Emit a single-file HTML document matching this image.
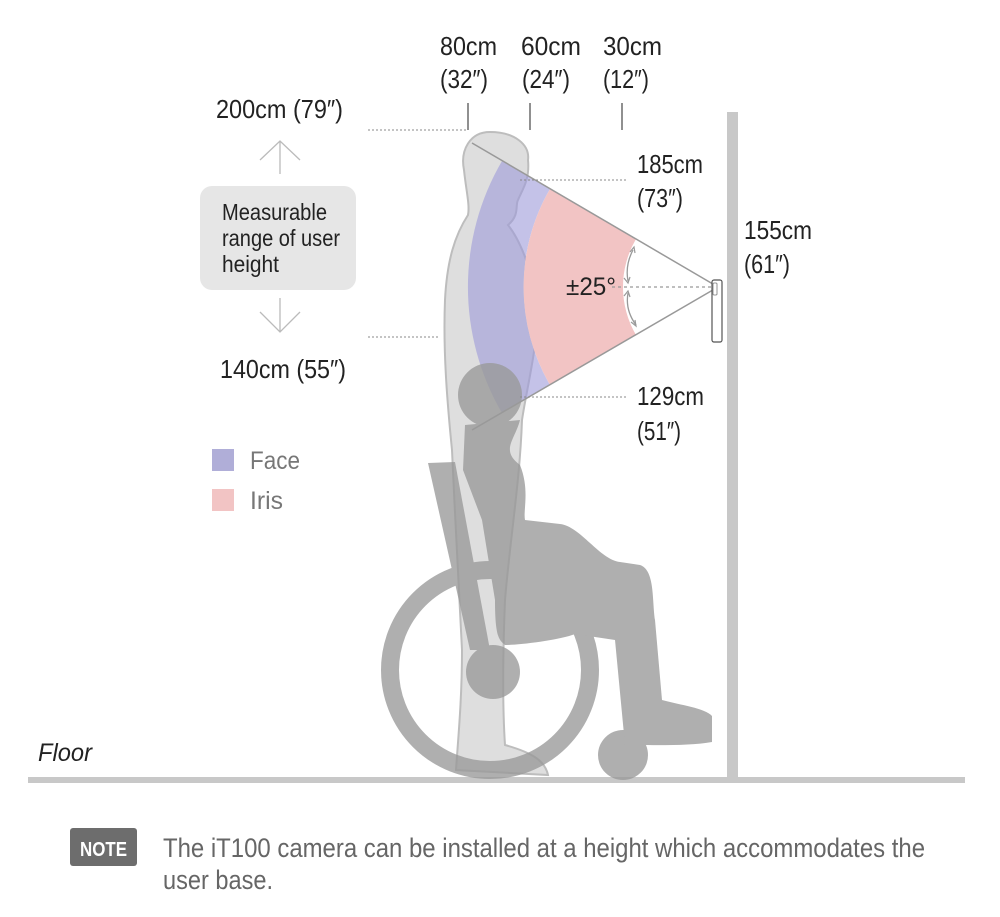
<!DOCTYPE html>
<html><head><meta charset="utf-8"><style>
html,body{margin:0;padding:0;background:#fff;}
svg{display:block;}
text{font-family:"Liberation Sans",sans-serif;}
</style></head><body>
<svg width="1000" height="917" viewBox="0 0 1000 917" xmlns="http://www.w3.org/2000/svg">
<!-- wall & floor -->
<rect x="727" y="112" width="11" height="668" fill="#c8c8c8"/>
<rect x="28" y="777" width="937" height="6" fill="#c8c8c8"/>

<!-- standing person -->
<path d="M490,132 C470,132 460,150 464,170 C466,190 470,205 468,215 C455,235 447,260 445,300 C443,350 447,400 452,450 C455,520 460,600 462,650 C462,700 458,740 456,770 L548,775 C545,760 530,752 505,745 C502,700 503,650 505,600 C510,540 520,480 522,420 C528,380 540,340 536,300 C532,270 520,240 508,225 C520,215 515,205 518,200 C522,190 530,180 528,160 C530,145 515,132 490,132 Z" fill="#dedede" stroke="#bdbdbd" stroke-width="2"/>

<!-- face band -->
<path d="M502,161 A250,250 0 0 0 502,413 L550,385 A195,195 0 0 1 550,189 Z" fill="#9d9ad8" fill-opacity="0.6"/>
<!-- iris band -->
<path d="M550,189 A195,195 0 0 0 550,385 L636,335 A95,95 0 0 1 636,239 Z" fill="#f2c4c4"/>
<!-- cone lines -->
<line x1="718" y1="287" x2="472" y2="143" stroke="#999" stroke-width="1.5"/>
<line x1="718" y1="287" x2="472" y2="430" stroke="#999" stroke-width="1.5"/>
<line x1="612" y1="287" x2="716" y2="287" stroke="#999" stroke-width="1.2" stroke-dasharray="3,3"/>
<!-- angle arrows -->
<path d="M633,250 Q625,265 628,281" fill="none" stroke="#999" stroke-width="1.3"/>
<path d="M628,293 Q625,310 636,325" fill="none" stroke="#999" stroke-width="1.3"/>
<path d="M630,252 l4,-5 l1,6 M624,278 l4,5 l2,-6 M624,296 l4,-5 l2,6 M631,322 l5,4 l-1,-6" fill="none" stroke="#999" stroke-width="1.2"/>
<text x="566" y="295" font-size="25" fill="#222" textLength="50" lengthAdjust="spacingAndGlyphs">±25°</text>

<!-- camera -->
<rect x="712" y="280" width="10" height="62" rx="2" fill="#fff" stroke="#555" stroke-width="1.2"/>
<rect x="713" y="283" width="4" height="12" rx="1" fill="#fff" stroke="#777" stroke-width="0.8"/>

<!-- wheelchair + person -->
<g fill="#999" opacity="0.78">
<circle cx="490" cy="670" r="100" fill="none" stroke="#999" stroke-width="18"/>
<circle cx="623" cy="755" r="25"/>
<path d="M428,463 L455,462 L490,650 L470,650 Z"/>
<circle cx="493" cy="672" r="27"/>
<circle cx="490" cy="395" r="32"/>
<path d="M465,425 L520,420 C515,440 500,450 520,465 C530,490 523,510 525,520 L560,524 C580,526 600,560 620,562 L640,565 C655,570 652,600 655,620 L662,700 C680,705 705,708 712,716 L712,742 C690,746 660,745 625,745 L615,640 L575,634 C560,640 520,645 505,645 C500,640 495,640 495,600 L482,520 L463,470 Z"/>
</g>

<!-- top ticks -->
<g stroke="#555" stroke-width="1.3">
<line x1="468" y1="103" x2="468" y2="130"/>
<line x1="530" y1="103" x2="530" y2="130"/>
<line x1="622" y1="103" x2="622" y2="130"/>
</g>
<g stroke="#888" stroke-width="1" stroke-dasharray="2,2" fill="none">
<line x1="368" y1="130" x2="468" y2="130"/>
<line x1="368" y1="337" x2="440" y2="337"/>
<line x1="520" y1="180" x2="628" y2="180"/>
<line x1="520" y1="397" x2="628" y2="397"/>
</g>

<g fill="#222" font-size="26">
<text x="440" y="55" textLength="57" lengthAdjust="spacingAndGlyphs">80cm</text>
<text x="440" y="88" textLength="48" lengthAdjust="spacingAndGlyphs">(32″)</text>
<text x="521" y="55" textLength="60" lengthAdjust="spacingAndGlyphs">60cm</text>
<text x="522" y="88" textLength="48" lengthAdjust="spacingAndGlyphs">(24″)</text>
<text x="603" y="55" textLength="59" lengthAdjust="spacingAndGlyphs">30cm</text>
<text x="603" y="88" textLength="46" lengthAdjust="spacingAndGlyphs">(12″)</text>
<text x="216" y="118" textLength="127" lengthAdjust="spacingAndGlyphs">200cm (79″)</text>
<text x="220" y="378" textLength="126" lengthAdjust="spacingAndGlyphs">140cm (55″)</text>
<text x="637" y="173" textLength="66" lengthAdjust="spacingAndGlyphs">185cm</text>
<text x="637" y="207" textLength="46" lengthAdjust="spacingAndGlyphs">(73″)</text>
<text x="744" y="239" textLength="68" lengthAdjust="spacingAndGlyphs">155cm</text>
<text x="744" y="273" textLength="46" lengthAdjust="spacingAndGlyphs">(61″)</text>
<text x="637" y="405" textLength="67" lengthAdjust="spacingAndGlyphs">129cm</text>
<text x="637" y="440" textLength="44" lengthAdjust="spacingAndGlyphs">(51″)</text>
</g>

<!-- range box -->
<g stroke="#bbb" stroke-width="1.3" fill="none">
<path d="M280,174 L280,141 M260,160 L280,141 L300,160"/>
<path d="M280,298 L280,332 M260,312 L280,332 L300,312"/>
</g>
<rect x="200" y="186" width="156" height="104" rx="12" fill="#e6e6e6"/>
<g fill="#222" font-size="23">
<text x="222" y="220" textLength="105" lengthAdjust="spacingAndGlyphs">Measurable</text>
<text x="222" y="246" textLength="118" lengthAdjust="spacingAndGlyphs">range of user</text>
<text x="222" y="272" textLength="57" lengthAdjust="spacingAndGlyphs">height</text>
</g>

<!-- legend -->
<rect x="212" y="449" width="22" height="22" fill="#b0aed8"/>
<rect x="212" y="489" width="22" height="22" fill="#f2c4c4"/>
<text x="250" y="469" font-size="25" fill="#777" textLength="50" lengthAdjust="spacingAndGlyphs">Face</text>
<text x="250" y="509" font-size="25" fill="#777" textLength="33" lengthAdjust="spacingAndGlyphs">Iris</text>

<text x="38" y="761" font-size="25" font-style="italic" fill="#222" textLength="54" lengthAdjust="spacingAndGlyphs">Floor</text>

<!-- note -->
<rect x="70" y="828" width="67" height="38" rx="3" fill="#6d6d6d"/>
<text x="80" y="856" font-size="20" font-weight="bold" fill="#fff" textLength="47" lengthAdjust="spacingAndGlyphs">NOTE</text>
<text x="163" y="857" font-size="27" fill="#666" textLength="762" lengthAdjust="spacingAndGlyphs">The iT100 camera can be installed at a height which accommodates the</text>
<text x="163" y="889" font-size="27" fill="#666" textLength="110" lengthAdjust="spacingAndGlyphs">user base.</text>
</svg>
</body></html>
